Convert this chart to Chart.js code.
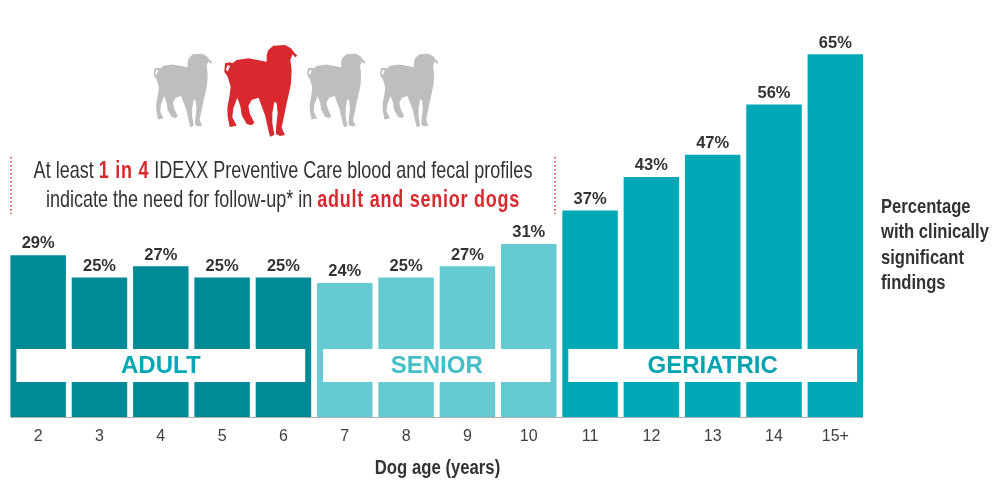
<!DOCTYPE html>
<html>
<head>
<meta charset="utf-8">
<style>
  html, body { margin: 0; padding: 0; background: #fff; }
  canvas { display: block; }
</style>
<script src="https://cdn.jsdelivr.net/npm/chart.js@4"></script>
</head>
<body>
<canvas id="chart" width="1000" height="500"></canvas>
<script>
const ages = ['2', '3', '4', '5', '6', '7', '8', '9', '10', '11', '12', '13', '14', '15+'];
const findings = [29, 25, 27, 25, 25, 24, 25, 27, 31, 37, 43, 47, 56, 65];
const barColors = ['#008a96', '#008a96', '#008a96', '#008a96', '#008a96',
  '#66cad3', '#66cad3', '#66cad3', '#66cad3',
  '#00a8b5', '#00a8b5', '#00a8b5', '#00a8b5', '#00a8b5'];

const groupNames = ['ADULT', 'SENIOR', 'GERIATRIC'];
const groupFirst = [0, 5, 9];
const groupLast = [4, 8, 13];
const groupColors = ['#00a8b5', '#45bec8', '#00a3b0'];

const axisTitle = 'Dog age (years)';
const sideLabel = ['Percentage', 'with clinically', 'significant', 'findings'];
const headline = [
  [['At least ', false], ['1 in 4', true], [' IDEXX Preventive Care blood and fecal profiles', false]],
  [['indicate the need for follow-up* in ', false], ['adult and senior dogs', true]]
];

const FONT = '"Liberation Sans", sans-serif';
const RED = '#d9282e';
const GREY_DOG = '#bcbec0';
const INK = '#333333';

// dog silhouette, decoration only
const dogPath = new Path2D('M160 30 L175 17 L210 15 L228 25 L238 38 L247 47 L240 52 L233 43 L228 55 L226 60 L230 90 L228 130 L222 160 L215 190 L208 225 L200 262 L205 275 L210 285 L195 288 L183 282 L183 265 L188 220 L185 190 L178 185 L172 220 L172 250 L178 285 L165 290 L160 270 L150 225 L136 188 L131 173 L110 180 L100 198 L105 222 L118 248 L110 256 L95 252 L80 225 L76 198 L67 173 L55 205 L52 232 L65 257 L44 261 L38 230 L37 205 L44 165 L47 140 L38 110 L28 95 L30 70 L45 67 L52 70 L65 60 L100 55 L155 65 L155 45 Z M38 75 L45 78 L38 95 L33 88 Z');

function drawDog(ctx, scale, dx, dy, color) {
  ctx.save();
  ctx.translate(dx, dy);
  ctx.scale(scale / 3, scale / 3);
  ctx.fillStyle = color;
  ctx.fill(dogPath, 'evenodd');
  ctx.restore();
}

// the reference uses a condensed face, so squeeze the text sideways
function squeezedText(ctx, text, x, y, squeeze) {
  ctx.save();
  ctx.translate(x, y);
  ctx.scale(squeeze, 1);
  ctx.fillText(text, 0, 0);
  ctx.restore();
}

function drawHeadline(ctx) {
  const squeeze = 0.75;
  ctx.textBaseline = 'middle';
  ctx.textAlign = 'left';
  const setRun = bold => {
    ctx.font = (bold ? 'bold ' : '') + '24px ' + FONT;
    ctx.letterSpacing = bold ? '1px' : '0px';
  };
  headline.forEach((runs, i) => {
    const y = 171 + i * 29.5;
    let total = 0;
    runs.forEach(([text, bold]) => {
      setRun(bold);
      total += ctx.measureText(text).width * squeeze;
    });
    let x = 283 - total / 2;
    runs.forEach(([text, bold]) => {
      setRun(bold);
      ctx.fillStyle = bold ? RED : INK;
      squeezedText(ctx, text, x, y, squeeze);
      x += ctx.measureText(text).width * squeeze;
    });
  });
  ctx.letterSpacing = '0px';

  ctx.strokeStyle = RED;
  ctx.lineWidth = 1.5;
  ctx.setLineDash([1.5, 2.5]);
  [11, 555].forEach(x => {
    ctx.beginPath();
    ctx.moveTo(x, 157);
    ctx.lineTo(x, 214);
    ctx.stroke();
  });
  ctx.setLineDash([]);
}

const annotations = {
  id: 'annotations',
  afterDatasetsDraw(chart) {
    const ctx = chart.ctx;
    const bars = chart.getDatasetMeta(0).data;
    const base = chart.scales.y.getPixelForValue(0);
    ctx.save();

    // baseline only as wide as the bars
    ctx.strokeStyle = '#b0b0b0';
    ctx.lineWidth = 1;
    ctx.beginPath();
    ctx.moveTo(bars[0].x - bars[0].width / 2, base + 0.5);
    ctx.lineTo(bars[bars.length - 1].x + bars[0].width / 2, base + 0.5);
    ctx.stroke();

    // value labels
    ctx.textAlign = 'center';
    ctx.textBaseline = 'bottom';
    ctx.fillStyle = INK;
    ctx.font = 'bold 16.5px ' + FONT;
    bars.forEach((bar, i) => ctx.fillText(findings[i] + '%', bar.x, bar.y - 3));

    // life stage bands
    groupNames.forEach((name, i) => {
      const first = bars[groupFirst[i]];
      const last = bars[groupLast[i]];
      const left = first.x - first.width / 2 + 6;
      const right = last.x + last.width / 2 - 6;
      ctx.fillStyle = '#ffffff';
      ctx.fillRect(left, 349, right - left, 33);
      ctx.fillStyle = groupColors[i];
      ctx.font = 'bold 24px ' + FONT;
      ctx.textAlign = 'center';
      ctx.textBaseline = 'middle';
      ctx.fillText(name, (left + right) / 2, 366);
    });

    // axis title
    ctx.fillStyle = INK;
    ctx.font = 'bold 20px ' + FONT;
    ctx.textAlign = 'center';
    ctx.textBaseline = 'middle';
    squeezedText(ctx, axisTitle, 437.5, 468.5, 0.836);

    // side label
    ctx.textAlign = 'left';
    sideLabel.forEach((line, i) => squeezedText(ctx, line, 881, 207.5 + i * 25.4, 0.83));

    drawHeadline(ctx);

    drawDog(ctx, 0.8, 146.3, 49.8, GREY_DOG);
    drawDog(ctx, 1, 215, 40, RED);
    drawDog(ctx, 0.8, 299.8, 49.8, GREY_DOG);
    drawDog(ctx, 0.8, 372.7, 49.8, GREY_DOG);
    ctx.restore();
  }
};

new Chart(document.getElementById('chart'), {
  type: 'bar',
  data: {
    labels: ages,
    datasets: [{
      data: findings,
      backgroundColor: barColors,
      barPercentage: 0.905,
      categoryPercentage: 1
    }]
  },
  options: {
    responsive: false,
    animation: false,
    layout: { padding: { left: 7.5, right: 134, top: 26.4, bottom: 0 } },
    plugins: { legend: { display: false }, tooltip: { enabled: false } },
    scales: {
      x: {
        grid: { display: false },
        border: { display: false },
        ticks: { color: '#404040', padding: 2, maxRotation: 0, autoSkip: false, font: { family: FONT, size: 16 } },
        afterFit(scale) { scale.height = 83; }
      },
      y: { display: false, min: 0, max: 70 }
    }
  },
  plugins: [annotations]
});
</script>
</body>
</html>
